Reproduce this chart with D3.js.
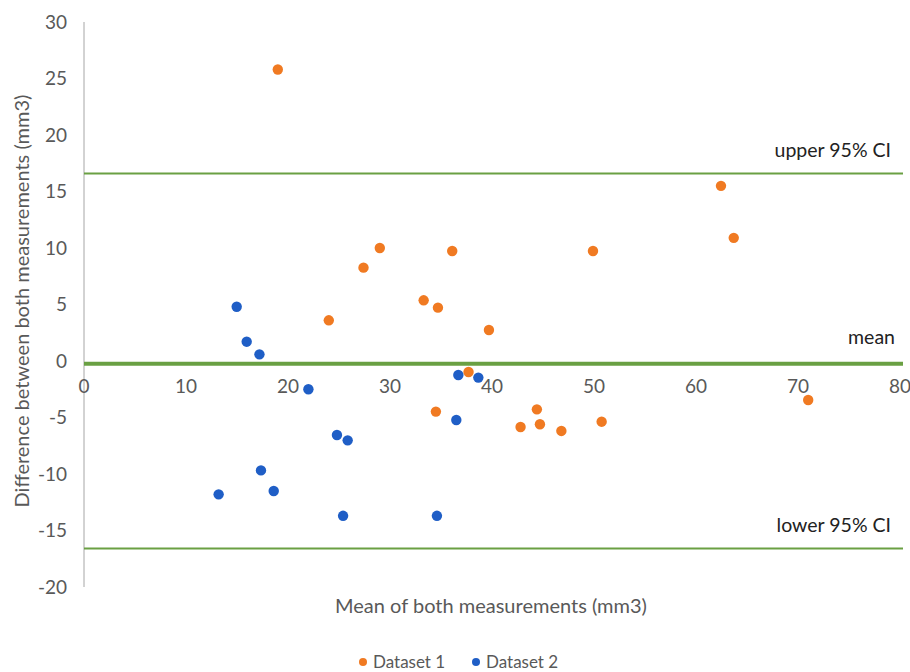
<!DOCTYPE html>
<html><head><meta charset="utf-8">
<script src="https://cdn.jsdelivr.net/npm/d3@7"></script>
<style>body{margin:0;background:#fff;font-family:Lato,"Open Sans",sans-serif;}</style>
</head><body>
<svg id="c" width="910" height="672"></svg>
<script>
const d1x = [19.0, 29.0, 27.4, 36.1, 49.9, 33.3, 34.7, 24.0, 39.7, 37.7, 34.5, 44.4, 42.8, 44.7, 46.8, 50.75, 62.45, 63.7, 71.0];
const d1y = [25.8, 10.0, 8.26, 9.73, 9.73, 5.37, 4.72, 3.6, 2.74, -0.97, -4.48, -4.28, -5.84, -5.6, -6.19, -5.37, 15.5, 10.9, -3.45];
const d2x = [14.97, 15.95, 17.2, 22.0, 13.2, 17.35, 18.6, 36.7, 38.66, 36.5, 24.8, 25.85, 25.4, 34.6];
const d2y = [4.8, 1.71, 0.59, -2.5, -11.8, -9.68, -11.5, -1.24, -1.47, -5.22, -6.55, -7.02, -13.7, -13.7];
const xTicks = [0,10,20,30,40,50,60,70,80];
const yTicks = [30,25,20,15,10,5,0,-5,-10,-15,-20];
const refValues = [16.6, -0.25, -16.6];
const refLabels = ["upper 95% CI", "mean", "lower 95% CI"];
const seriesNames = ["Dataset 1", "Dataset 2"];
const colors = ["#f07a22", "#1f5ec6"];

const svg = d3.select("#c");
const x = d3.scaleLinear().domain([0,80]).range([84,900]);
const y = d3.scaleLinear().domain([-20,30]).range([587,22]);

// y axis line
svg.append("line").attr("x1",x(0)).attr("x2",x(0)).attr("y1",y(30)).attr("y2",y(-20))
  .attr("stroke","#a6a6a6").attr("stroke-width",1);
// y tick labels
svg.append("g").selectAll("text").data(yTicks).join("text")
  .attr("x",67).attr("y",d=>y(d)).attr("dy","0.35em").attr("text-anchor","end")
  .attr("font-size",19).attr("fill","#595959").text(d=>d);
// x tick labels
svg.append("g").selectAll("text").data(xTicks).join("text")
  .attr("x",d=>x(d)).attr("y",y(0)+25).attr("dy","0.35em").attr("text-anchor","middle")
  .attr("font-size",19).attr("fill","#595959").text(d=>d);

// reference lines
const widths = [2,4,2];
svg.append("g").selectAll("line").data(refValues).join("line")
  .attr("x1",x(0)).attr("x2",x(80)+3).attr("y1",d=>y(d)).attr("y2",d=>y(d))
  .attr("stroke","#6aa043").attr("stroke-width",(d,i)=>widths[i]);
const labelDx = [891,895,891];
const labelDy = [-23,-27,-23];
svg.append("g").selectAll("text").data(refValues).join("text")
  .attr("x",(d,i)=>labelDx[i]).attr("y",(d,i)=>y(d)+labelDy[i]).attr("dy","0.35em").attr("text-anchor","end")
  .attr("font-size",19.5).attr("fill","#222").text((d,i)=>refLabels[i]);

// points
const pts1 = d1x.map((v,i)=>[v,d1y[i]]);
const pts2 = d2x.map((v,i)=>[v,d2y[i]]);
svg.append("g").selectAll("circle").data(pts1).join("circle")
  .attr("cx",d=>x(d[0])).attr("cy",d=>y(d[1])).attr("r",5.2).attr("fill",colors[0]);
svg.append("g").selectAll("circle").data(pts2).join("circle")
  .attr("cx",d=>x(d[0])).attr("cy",d=>y(d[1])).attr("r",5.2).attr("fill",colors[1]);

// axis titles
svg.append("text").attr("x",491).attr("y",606).attr("dy","0.35em").attr("text-anchor","middle")
  .attr("font-size",20).attr("fill","#595959").text("Mean of both measurements (mm3)");
svg.append("text").attr("transform","translate(22,301) rotate(-90)").attr("dy","0.35em")
  .attr("text-anchor","middle").attr("font-size",20).attr("fill","#595959")
  .text("Difference between both measurements (mm3)");

// legend
const legX = [363, 476];
const lg = svg.append("g").selectAll("g").data(seriesNames).join("g")
  .attr("transform",(d,i)=>`translate(${legX[i]},662)`);
lg.append("circle").attr("r",4).attr("fill",(d,i)=>colors[i]);
lg.append("text").attr("x",10).attr("dy","0.35em").attr("font-size",17).attr("fill","#595959").text(d=>d);
</script>
</body></html>
